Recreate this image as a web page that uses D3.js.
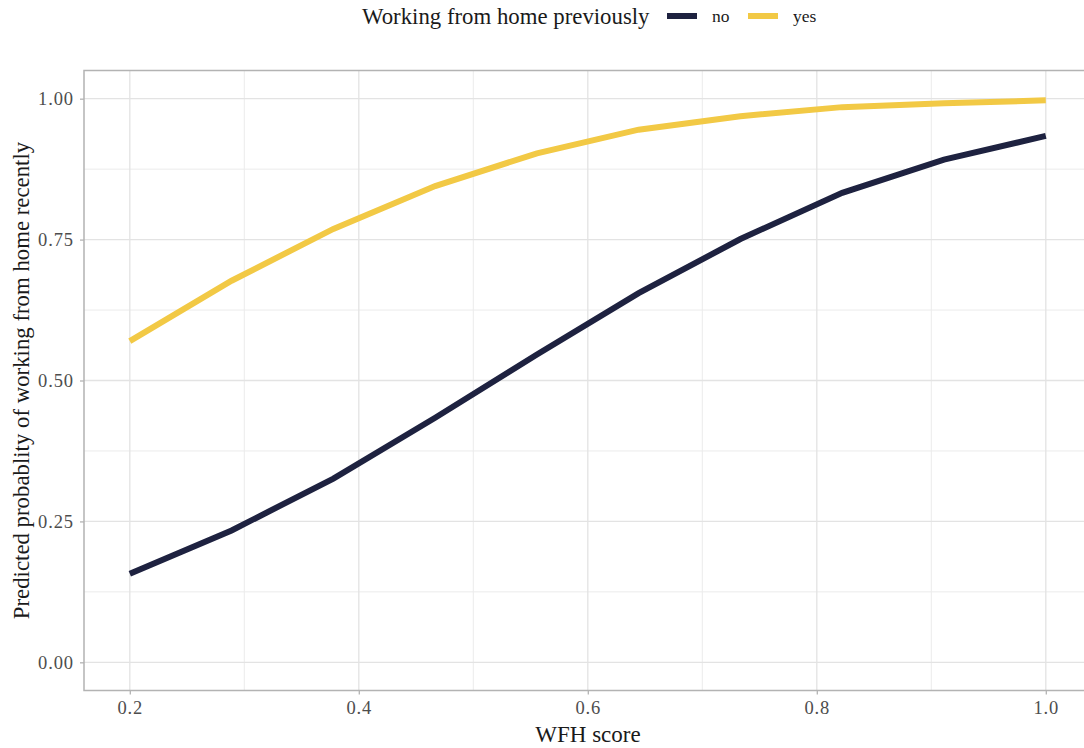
<!DOCTYPE html>
<html>
<head>
<meta charset="utf-8">
<script src="https://cdn.jsdelivr.net/npm/d3@7"></script>
<style>
  html, body { margin: 0; padding: 0; background: #fff; }
  svg { display: block; font-family: "Liberation Serif", "DejaVu Serif", serif; }
  text { font-family: "Liberation Serif", "DejaVu Serif", serif; }
</style>
</head>
<body>
<svg id="chart" width="1084" height="748"></svg>
<script>
// ---- data ----
const wfhScore = [0.2, 0.2889, 0.3778, 0.4667, 0.5556, 0.6444, 0.7333, 0.8222, 0.9111, 1.0];
const probNo  = [0.157, 0.234, 0.326, 0.434, 0.546, 0.655, 0.751, 0.833, 0.892, 0.934];
const probYes = [0.570, 0.677, 0.769, 0.845, 0.903, 0.945, 0.969, 0.985, 0.992, 0.997];
const seriesNames = ["no", "yes"];
const xTicks = [0.2, 0.4, 0.6, 0.8, 1.0];
const yTicks = [0, 0.25, 0.5, 0.75, 1.0];
const xMinor = [0.3, 0.5, 0.7, 0.9];
const yMinor = [0.125, 0.375, 0.625, 0.875];
const legendTitle = "Working from home previously";
const xTitle = "WFH score";
const yTitle = "Predicted probablity of working from home recently";

const colors = { no: "#1e2240", yes: "#f2c945" };

(function () {
const svg = d3.select("#chart");
const W = 1084, H = 748;
const pLeft = 84, pTop = 70.5, pBottom = 690.5;
const xPerUnit = (1046 - 130) / 0.8;

const x = d3.scaleLinear().domain([0.16, 1.04]).range([pLeft, pLeft + 0.88 * xPerUnit]);
const y = d3.scaleLinear().domain([-0.05, 1.05]).range([pBottom, pTop]);

svg.append("defs").append("clipPath").attr("id", "pclip")
  .append("rect").attr("x", pLeft).attr("y", pTop).attr("width", W - pLeft).attr("height", pBottom - pTop);

const grid = svg.append("g");
grid.selectAll(".ymin").data(yMinor).enter().append("line")
  .attr("x1", pLeft).attr("x2", W).attr("y1", d => y(d)).attr("y2", d => y(d))
  .attr("stroke", "#ebebeb").attr("stroke-width", 1);
grid.selectAll(".xmin").data(xMinor).enter().append("line")
  .attr("y1", pTop).attr("y2", pBottom).attr("x1", d => x(d)).attr("x2", d => x(d))
  .attr("stroke", "#ebebeb").attr("stroke-width", 1);
grid.selectAll(".ymaj").data(yTicks).enter().append("line")
  .attr("x1", pLeft).attr("x2", W).attr("y1", d => y(d)).attr("y2", d => y(d))
  .attr("stroke", "#e3e3e3").attr("stroke-width", 1.3);
grid.selectAll(".xmaj").data(xTicks).enter().append("line")
  .attr("y1", pTop).attr("y2", pBottom).attr("x1", d => x(d)).attr("x2", d => x(d))
  .attr("stroke", "#e3e3e3").attr("stroke-width", 1.3);

const line = d3.line().x(d => x(d[0])).y(d => y(d[1]));
const seriesData = { no: probNo, yes: probYes };
const plot = svg.append("g").attr("clip-path", "url(#pclip)");
seriesNames.forEach(name => {
  plot.append("path")
    .datum(wfhScore.map((s, i) => [s, seriesData[name][i]]))
    .attr("d", line)
    .attr("fill", "none")
    .attr("stroke", colors[name])
    .attr("stroke-width", 6);
});

svg.append("rect").attr("x", pLeft).attr("y", pTop).attr("width", 1200).attr("height", pBottom - pTop)
  .attr("fill", "none").attr("stroke", "#b3b3b3").attr("stroke-width", 1.5);

const xAxis = d3.axisBottom(x).tickValues(xTicks).tickFormat(d3.format(".1f")).tickSize(4).tickPadding(6);
const yAxis = d3.axisLeft(y).tickValues(yTicks).tickFormat(d3.format(".2f")).tickSize(4).tickPadding(6);

const gx = svg.append("g").attr("transform", `translate(0,${pBottom})`).call(xAxis);
const gy = svg.append("g").attr("transform", `translate(${pLeft},0)`).call(yAxis);
[gx, gy].forEach(g => {
  g.attr("font-family", null).attr("font-size", null);
  g.select(".domain").remove();
  g.selectAll(".tick line").attr("stroke", "#b3b3b3").attr("stroke-width", 1.3);
  g.selectAll(".tick text").attr("fill", "#4d4d4d").style("font-size", "18.5px")
    .style("letter-spacing", "0.9px");
});

svg.append("text").attr("x", (130 + 1046) / 2).attr("y", 742).attr("text-anchor", "middle")
  .style("font-size", "23px").attr("fill", "#1a1a1a").text(xTitle);
svg.append("text").attr("transform", `translate(29,${(pTop + pBottom) / 2}) rotate(-90)`)
  .attr("text-anchor", "middle").style("font-size", "22.8px").attr("fill", "#1a1a1a").text(yTitle);

const lg = svg.append("g");
lg.append("text").attr("x", 362).attr("y", 24).style("font-size", "22.8px").attr("fill", "#1a1a1a").text(legendTitle);
const keyX = { no: 667, yes: 748 };
seriesNames.forEach(name => {
  lg.append("line").attr("x1", keyX[name]).attr("x2", keyX[name] + 30).attr("y1", 16).attr("y2", 16)
    .attr("stroke", colors[name]).attr("stroke-width", 6);
  lg.append("text").attr("x", keyX[name] + 45).attr("y", 22).style("font-size", "17.5px")
    .attr("fill", "#1a1a1a").text(name);
});
})();
</script>
</body>
</html>
